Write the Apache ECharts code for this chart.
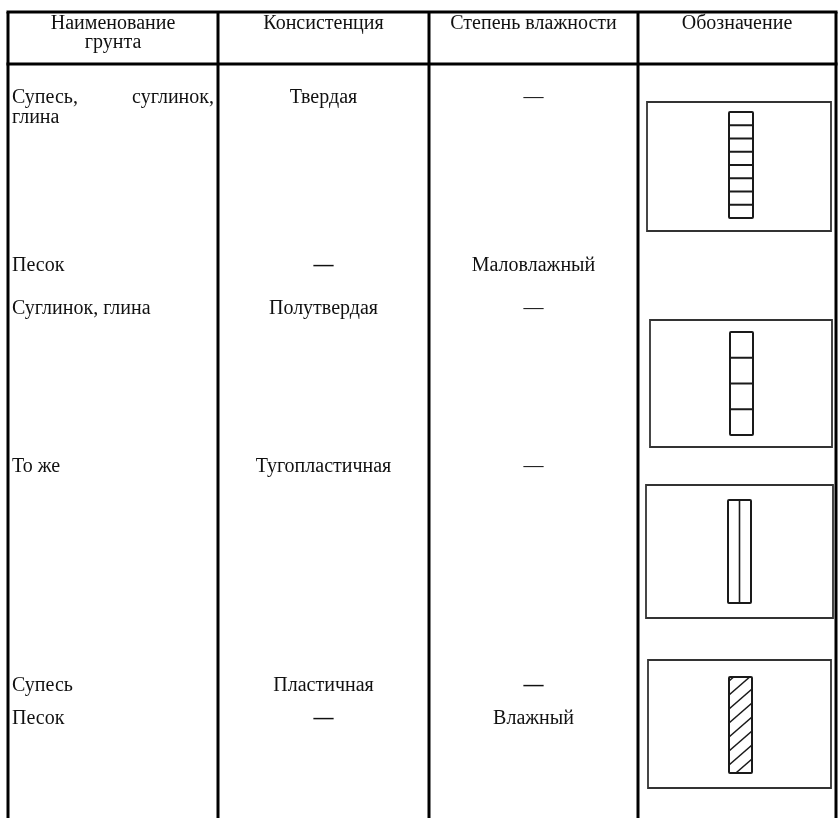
<!DOCTYPE html>
<html><head><meta charset="utf-8">
<script src="https://cdn.jsdelivr.net/npm/echarts@6/dist/echarts.min.js"></script>
<style>html,body{margin:0;padding:0;background:#fff}#c{width:838px;height:818px}</style>
</head><body><div id="c"></div>
<script>
// ---------- DATA ----------
const headers = [["Наименование", "грунта"], ["Консистенция"], ["Степень влажности"], ["Обозначение"]];
const soilNames = ["Супесь, суглинок, глина", "Песок", "Суглинок, глина", "То же", "Супесь", "Песок"];
const consistency = ["Твердая", "—", "Полутвердая", "Тугопластичная", "Пластичная", "—"];
const moisture = ["—", "Маловлажный", "—", "—", "—", "Влажный"];
const boldDash = [[false, true, false, false, false, true], [false, false, false, false, true, false]]; // [consistency, moisture]
const symbolKinds = ["cells", "cells", "split", "hatch"];
const symbolCells = [8, 4, 2, 0];

// ---------- LAYOUT ----------
const W = 838, H = 818;
const colX = [8, 218, 429, 638, 836];
const topY = 12, headY = 64;
const headerLineY = [[24, 43], [24], [24], [24]];
const rowY = [98, 266, 309, 467, 686, 719];
const symOuter = [[647, 102, 831, 231], [650, 320, 832, 447], [646, 485, 833, 618], [648, 660, 831, 788]];
const symInner = [[729, 112, 753, 218], [730, 332, 753, 435], [728, 500, 751, 603], [729, 677, 752, 773]];
const FONT = '"Liberation Serif","Times New Roman",serif';
const FS = 20;

const chart = echarts.init(document.getElementById('c'), null, {renderer: 'canvas'});

function txt(p, s, align, weight) {
  return {type: 'text', x: p[0], y: p[1],
    style: {x: 0, y: 0, text: s, fill: '#111', font: (weight || 'normal') + ' ' + FS + 'px ' + FONT, align: align, verticalAlign: 'middle'}};
}
function ln(a, b, w, c) {
  return {type: 'line', shape: {x1: a[0], y1: a[1], x2: b[0], y2: b[1]}, style: {stroke: c || '#000', lineWidth: w}};
}

function renderTable(params, api) {
  const ch = [];
  colX.forEach(x => ch.push(ln(api.coord([x, topY]), api.coord([x, H]), 3)));
  ch.push(ln(api.coord([colX[0] - 1.5, topY]), api.coord([colX[4] + 1.5, topY]), 3));
  ch.push(ln(api.coord([colX[0] - 1.5, headY]), api.coord([colX[4] + 1.5, headY]), 3));
  headers.forEach((lines, i) => {
    const cx = (colX[i] + colX[i + 1]) / 2;
    lines.forEach((s, j) => ch.push(txt(api.coord([cx, headerLineY[i][j]]), s, 'center')));
  });
  soilNames.forEach((name, r) => {
    const y = rowY[r];
    if (r === 0) {
      ch.push(txt(api.coord([colX[0] + 4, y]), "Супесь,", 'left'));
      ch.push(txt(api.coord([colX[1] - 4, y]), "суглинок,", 'right'));
      ch.push(txt(api.coord([colX[0] + 4, y + 20]), "глина", 'left'));
    } else {
      ch.push(txt(api.coord([colX[0] + 4, y]), name, 'left'));
    }
    const c2 = (colX[1] + colX[2]) / 2, c3 = (colX[2] + colX[3]) / 2;
    ch.push(txt(api.coord([c2, y]), consistency[r], 'center', boldDash[0][r] ? 'bold' : 'normal'));
    ch.push(txt(api.coord([c3, y]), moisture[r], 'center', boldDash[1][r] ? 'bold' : 'normal'));
  });
  return {type: 'group', children: ch};
}

function renderSymbol(params, api) {
  const i = params.dataIndex;
  const o = symOuter[i], n = symInner[i];
  const ch = [];
  const p0 = api.coord([o[0], o[1]]), p1 = api.coord([o[2], o[3]]);
  ch.push({type: 'rect', shape: {x: p0[0], y: p0[1], width: p1[0] - p0[0], height: p1[1] - p0[1]}, style: {fill: 'none', stroke: '#333', lineWidth: 1.8}});
  const q0 = api.coord([n[0], n[1]]), q1 = api.coord([n[2], n[3]]);
  ch.push({type: 'rect', shape: {x: q0[0], y: q0[1], width: q1[0] - q0[0], height: q1[1] - q0[1], r: 1}, style: {fill: 'none', stroke: '#1a1a1a', lineWidth: 2}});
  const kind = symbolKinds[i];
  if (kind === 'cells') {
    const k = symbolCells[i];
    for (let j = 1; j < k; j++) {
      const y = q0[1] + (q1[1] - q0[1]) * j / k;
      ch.push(ln([q0[0], y], [q1[0], y], 2, '#1a1a1a'));
    }
  } else if (kind === 'split') {
    const xm = (q0[0] + q1[0]) / 2;
    ch.push(ln([xm, q0[1]], [xm, q1[1]], 1.6, '#1a1a1a'));
  } else if (kind === 'hatch') {
    const w = q1[0] - q0[0], s = 20, gap = 14;
    for (let yb = q0[1] + 4; yb < q1[1] + s; yb += gap) {
      let t0 = Math.max(0, (yb - q1[1]) / s), t1 = Math.min(1, (yb - q0[1]) / s);
      if (t1 <= t0) continue;
      ch.push(ln([q0[0] + t0 * w, yb - t0 * s], [q0[0] + t1 * w, yb - t1 * s], 1.6, '#1a1a1a'));
    }
  }
  return {type: 'group', children: ch};
}

chart.setOption({
  animation: false,
  grid: {left: 0, right: 0, top: 0, bottom: 0},
  xAxis: {type: 'value', min: 0, max: W, show: false},
  yAxis: {type: 'value', min: 0, max: H, inverse: true, show: false},
  series: [
    {type: 'custom', data: [[0, 0]], renderItem: renderTable, silent: true},
    {type: 'custom', data: symbolKinds.map((k, i) => [i, i]), renderItem: renderSymbol, silent: true}
  ]
});
</script></body></html>
